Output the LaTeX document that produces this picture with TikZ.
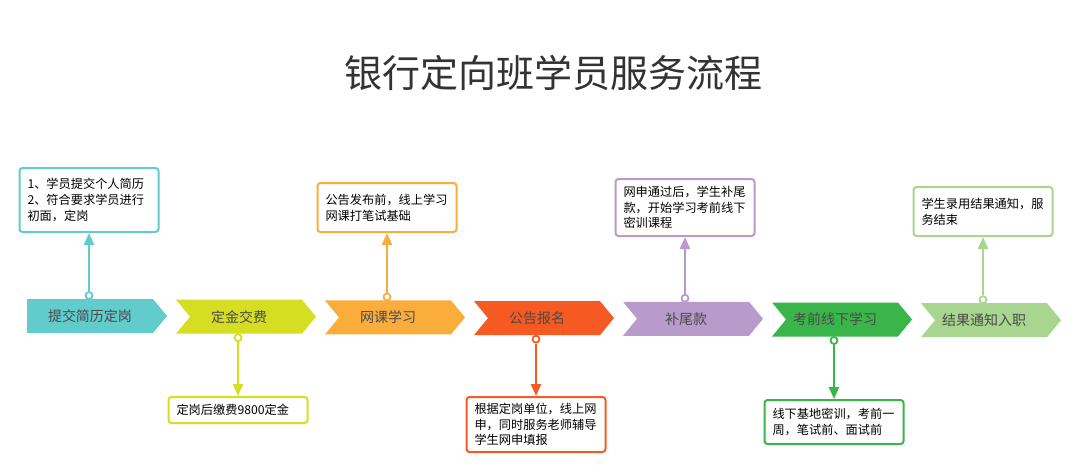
\documentclass[tikz,border=0pt]{standalone}
\usepackage{fontspec}
\setmainfont{Noto Sans CJK SC}
\usetikzlibrary{arrows.meta}
\definecolor{cA}{HTML}{62CBCB}
\definecolor{cB}{HTML}{D6DE23}
\definecolor{cC}{HTML}{FBAD3C}
\definecolor{cD}{HTML}{F65A22}
\definecolor{cE}{HTML}{B89ACB}
\definecolor{cF}{HTML}{39B54A}
\definecolor{cG}{HTML}{A8D58F}
\definecolor{chevtxt}{HTML}{4A4A4A}
\definecolor{titlec}{HTML}{333333}
\begin{document}
\begin{tikzpicture}[x=1pt,y=-1pt,
  chevtext/.style={font=\fontsize{14}{16}\selectfont, text=chevtxt, inner sep=0pt},
  infobox/.style={draw, fill=white, rounded corners=3pt, line width=2pt,
    font=\fontsize{12.2}{15.7}\selectfont, text=black, align=left,
    text width=123pt, inner xsep=8pt, inner ysep=0pt},
  dot/.style={circle, draw, fill=white, line width=1.8pt, minimum size=7pt, inner sep=0pt},
  conn/.style={line width=2.3pt, -{Triangle[length=12pt,width=10pt]}}
]
\fill[white] (0,0) rectangle (1080,471);
\useasboundingbox (0,0) rectangle (1080,471);

\node[font=\fontsize{38}{40}\selectfont, text=titlec] (title) at (553,72.5) {银行定向班学员服务流程};

% chevrons
\fill[cA] (27,299) -- ++(126,0) -- ++(14,17) -- ++(-14,17) -- ++(-126,0) -- cycle;
\fill[cB] (176,299.7) -- ++(126,0) -- ++(14,17) -- ++(-14,17) -- ++(-126,0) -- ++(14,-17) -- cycle;
\fill[cC] (325,300.4) -- ++(126,0) -- ++(14,17) -- ++(-14,17) -- ++(-126,0) -- ++(14,-17) -- cycle;
\fill[cD] (474,301.1) -- ++(126,0) -- ++(14,17) -- ++(-14,17) -- ++(-126,0) -- ++(14,-17) -- cycle;
\fill[cE] (623,301.8) -- ++(126,0) -- ++(14,17) -- ++(-14,17) -- ++(-126,0) -- ++(14,-17) -- cycle;
\fill[cF] (772,302.5) -- ++(126,0) -- ++(14,17) -- ++(-14,17) -- ++(-126,0) -- ++(14,-17) -- cycle;
\fill[cG] (921,303.2) -- ++(126,0) -- ++(14,17) -- ++(-14,17) -- ++(-126,0) -- ++(14,-17) -- cycle;

\node[chevtext] (s1) at (90,316) {提交简历定岗};
\node[chevtext] (s2) at (239,316.7) {定金交费};
\node[chevtext] (s3) at (388,317.4) {网课学习};
\node[chevtext] (s4) at (537,318.1) {公告报名};
\node[chevtext] (s5) at (686,318.8) {补尾款};
\node[chevtext] (s6) at (835,319.5) {考前线下学习};
\node[chevtext] (s7) at (984,320.2) {结果通知入职};

% boxes
\node[infobox, draw=cA, anchor=south, minimum height=64pt] (b1) at (89,233)
  {1、学员提交个人简历\\2、符合要求学员进行\\初面，定岗};
\node[infobox, draw=cC, anchor=south, minimum height=49pt] (b3) at (387,233)
  {公告发布前，线上学习\\网课打笔试基础};
\node[infobox, draw=cE, anchor=south, minimum height=57pt] (b5) at (685,237)
  {网申通过后，学生补尾\\款，开始学习考前线下\\密训课程};
\node[infobox, draw=cG, anchor=south, minimum height=49pt] (b7) at (983,237)
  {学生录用结果通知，服\\务结束};
\node[infobox, draw=cB, anchor=north, minimum height=26pt] (b2) at (238,396)
  {定岗后缴费9800定金};
\node[infobox, draw=cD, anchor=north, minimum height=55pt] (b4) at (536,396)
  {根据定岗单位，线上网\\申，同时服务老师辅导\\学生网申填报};
\node[infobox, draw=cF, anchor=north, minimum height=44pt] (b6) at (834,399)
  {线下基地密训，考前一\\周，笔试前、面试前};

% dots
\node[dot, draw=cA] (p1) at (89,295.5) {};
\node[dot, draw=cB] (p2) at (238,337.7) {};
\node[dot, draw=cC] (p3) at (387,296.9) {};
\node[dot, draw=cD] (p4) at (536,339.1) {};
\node[dot, draw=cE] (p5) at (685,298.3) {};
\node[dot, draw=cF] (p6) at (834,340.5) {};
\node[dot, draw=cG] (p7) at (983,299.7) {};

% connectors
\draw[conn, cA] (p1) -- (b1);
\draw[conn, cB] (p2) -- (b2);
\draw[conn, cC] (p3) -- (b3);
\draw[conn, cD] (p4) -- (b4);
\draw[conn, cE] (p5) -- (b5);
\draw[conn, cF] (p6) -- (b6);
\draw[conn, cG] (p7) -- (b7);
\end{tikzpicture}
\end{document}
